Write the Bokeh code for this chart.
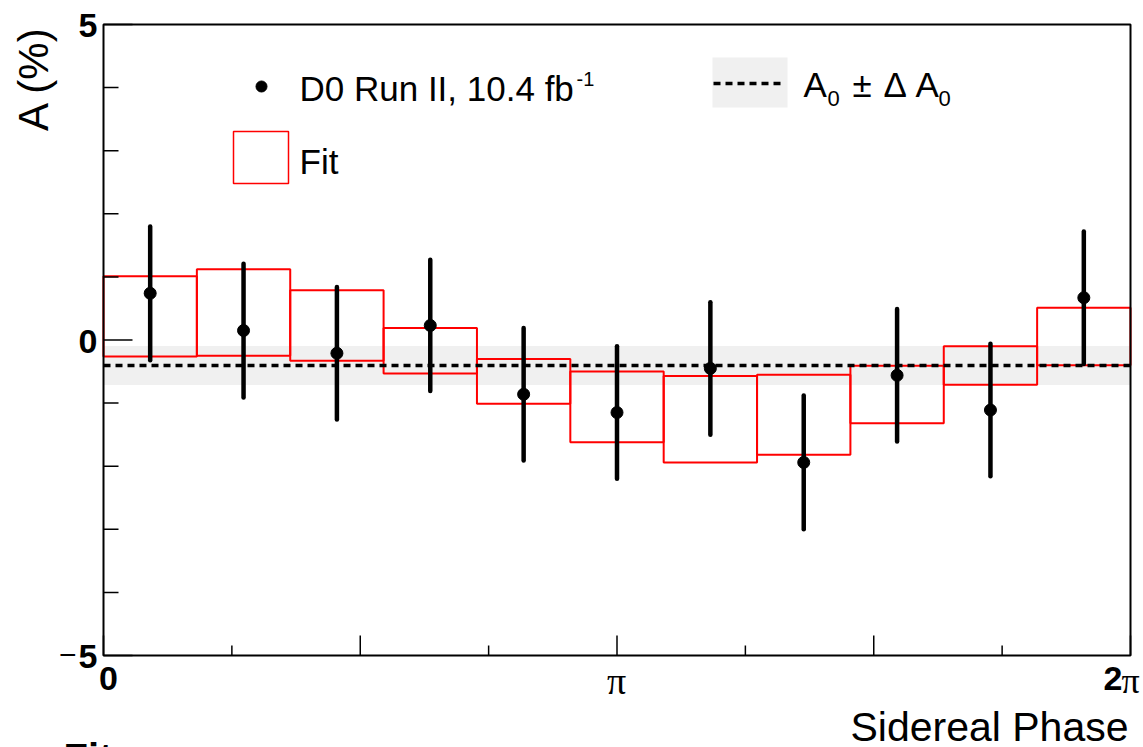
import math

from bokeh.plotting import figure
from bokeh.models import Label, Range1d
from bokeh.embed import file_html
from bokeh.resources import INLINE

TWO_PI = 2 * math.pi

# ---- data -------------------------------------------------------------
n_bins = 11                      # sidereal-phase bins over [0, 2pi]
asym = [0.74, 0.15, -0.21, 0.23, -0.86, -1.15, -0.45, -1.94, -0.56, -1.11, 0.67]
asym_err = [1.06, 1.06, 1.05, 1.04, 1.05, 1.05, 1.05, 1.06, 1.05, 1.05, 1.05]
fit_hi = [1.01, 1.12, 0.79, 0.19, -0.30, -0.50, -0.57, -0.55, -0.41, -0.10, 0.51]
fit_lo = [-0.26, -0.25, -0.33, -0.53, -1.01, -1.62, -1.94, -1.82, -1.32, -0.71, -0.40]
a0 = -0.405
a0_err = 0.31

y_ticks = [-5, 0, 5]
y_minor = [-4, -3, -2, -1, 1, 2, 3, 4]
x_ticks = [0, math.pi / 2, math.pi, 3 * math.pi / 2, TWO_PI]
x_minor = [math.pi / 4, 3 * math.pi / 4, 5 * math.pi / 4, 7 * math.pi / 4]

X0, X1 = 0.0, TWO_PI
Y0, Y1 = -5.0, 5.0

# ---- layout -----------------------------------------------------------
# The drawing area covers the whole canvas; the axis box sits inside it.
W, H = 1143, 747
LEFT, RIGHT, TOP, BOTTOM = 103, 13, 24, 92
PX_X = (X1 - X0) / (W - LEFT - RIGHT)     # data units per pixel
PX_Y = (Y1 - Y0) / (H - TOP - BOTTOM)


def fx(px):
    return X0 + (px - LEFT) * PX_X


def fy(py):
    return Y1 - (py - TOP) * PX_Y


p = figure(width=W, height=H,
           x_range=Range1d(fx(0), fx(W)), y_range=Range1d(fy(H), fy(0)),
           x_axis_location=None, y_axis_location=None,
           output_backend="svg", toolbar_location=None,
           min_border=0)
p.background_fill_color = "white"
p.border_fill_color = "white"
p.outline_line_color = None
p.xgrid.visible = False
p.ygrid.visible = False


def text(px, py, s, size, bold=False, font="Liberation Sans", align="left",
         angle=0.0):
    # py is the vertical centre of the capitals
    p.add_layout(Label(x=fx(px), y=fy(py), text=s, text_font=font,
                       text_font_size=f"{size}px",
                       text_font_style="bold" if bold else "normal",
                       text_align=align, text_baseline="middle",
                       angle=angle, text_color="black"))


# ---- plot content -----------------------------------------------------
width = (X1 - X0) / n_bins
lefts = [X0 + i * width for i in range(n_bins)]
rights = [X0 + (i + 1) * width for i in range(n_bins)]
centers = [X0 + (i + 0.5) * width for i in range(n_bins)]

# A0 +- dA0 band
p.quad(left=[X0], right=[X1], bottom=[a0 - a0_err], top=[a0 + a0_err],
       fill_color="#f0f0f0", line_color=None)

# fit boxes
p.quad(left=lefts, right=rights, bottom=fit_lo, top=fit_hi,
       fill_color=None, line_color="#ff0000", line_width=2)

# A0 central value
p.line(x=[X0, X1], y=[a0, a0], line_color="black", line_width=3.5,
       line_dash="7 5")

# measured asymmetry with errors
p.segment(x0=centers, y0=[a - e for a, e in zip(asym, asym_err)],
          x1=centers, y1=[a + e for a, e in zip(asym, asym_err)],
          line_color="black", line_width=4.5, line_cap="round")
p.scatter(x=centers, y=asym, size=12, color="black")

# ---- axis box and ticks -------------------------------------------------
p.quad(left=[X0], right=[X1], bottom=[Y0], top=[Y1],
       fill_color=None, line_color="black", line_width=2)

p.segment(x0=[X0] * len(y_ticks), y0=y_ticks,
          x1=[X0 + 29 * PX_X] * len(y_ticks), y1=y_ticks,
          line_color="black", line_width=1.5)
p.segment(x0=[X0] * len(y_minor), y0=y_minor,
          x1=[X0 + 15 * PX_X] * len(y_minor), y1=y_minor,
          line_color="black", line_width=1.5)
p.segment(x0=x_ticks, y0=[Y0] * len(x_ticks),
          x1=x_ticks, y1=[Y0 + 20 * PX_Y] * len(x_ticks),
          line_color="black", line_width=1.5)
p.segment(x0=x_minor, y0=[Y0] * len(x_minor),
          x1=x_minor, y1=[Y0 + 10 * PX_Y] * len(x_minor),
          line_color="black", line_width=1.5)

# ---- legend -----------------------------------------------------------
p.scatter(x=[fx(261)], y=[fy(86)], size=11, color="black")
text(299, 88, "D0 Run II, 10.4 fb", 35)
text(576, 78, "-1", 20)

p.quad(left=[fx(233)], right=[fx(288)], bottom=[fy(183)], top=[fy(131)],
       fill_color=None, line_color="#ff0000", line_width=1.5)
text(299, 161, "Fit", 35)

p.quad(left=[fx(712)], right=[fx(787)], bottom=[fy(107)], top=[fy(57)],
       fill_color="#f0f0f0", line_color=None)
p.line(x=[fx(713), fx(782)], y=[fy(83), fy(83)], line_color="black",
       line_width=3.5, line_dash="7 5")
text(803, 84, "A", 35)
text(827, 98, "0", 22)
text(852, 84, "\u00b1", 35)
text(883, 84, "\u0394", 35)
text(915, 84, "A", 35)
text(938, 98, "0", 22)

# ---- tick and axis labels ----------------------------------------------
text(97, 25, "5", 34, bold=True, align="right")
text(97, 341, "0", 34, bold=True, align="right")
text(97, 656, "5", 34, bold=True, align="right")
text(76, 654, "\u2212", 30, align="right")

text(108, 678, "0", 34, bold=True, align="center")
text(616, 680, "\u03c0", 38, font="Liberation Serif", align="center")
text(1103, 678, "2", 34, bold=True)
text(1121, 680, "\u03c0", 36, font="Liberation Serif")

text(1128, 726, "Sidereal Phase", 41, align="right")
text(33, 78, "A (%)", 42, align="center", angle=math.pi / 2)

text(63, 757, "Fit", 40, bold=True)

open("out.html", "w").write(file_html(p, INLINE))
